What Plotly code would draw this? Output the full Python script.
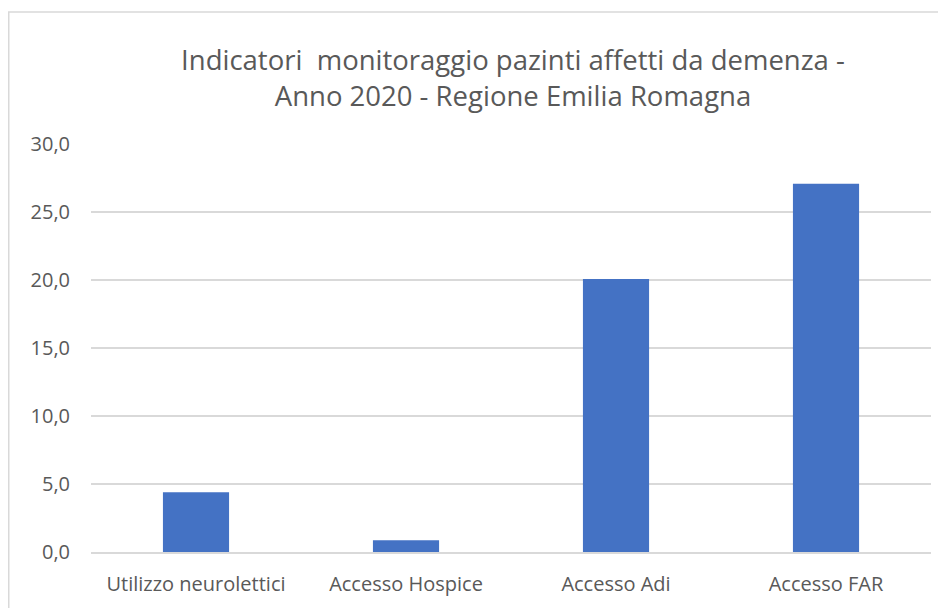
import plotly.graph_objects as go

categories = ["Utilizzo neurolettici", "Accesso Hospice", "Accesso Adi", "Accesso FAR"]
values = [4.4, 0.86, 20.08, 27.08]
y_ticks = [0, 5, 10, 15, 20, 25, 30]
y_tick_labels = ["0,0", "5,0", "10,0", "15,0", "20,0", "25,0", "30,0"]

FONT = "Open Sans"
GRAY = "#595959"

L, T, PW, PH = 83, 136, 840, 408
W, H = 930, 600

fig = go.Figure(go.Bar(x=categories, y=values, marker=dict(color="#4472C4", line=dict(width=0)),
                       width=0.315))

border = dict(color="#d9d9d9", width=1.5)
fig.update_layout(
    width=W, height=H,
    margin=dict(l=L, r=W - L - PW, t=T, b=H - T - PH, autoexpand=False),
    paper_bgcolor="white", plot_bgcolor="white",
    showlegend=False,
    title=dict(text="Indicatori  monitoraggio pazinti affetti da demenza -<br>Anno 2020 - Regione Emilia Romagna",
               x=505 / W, xref="container", xanchor="center", y=1 - 62 / H, yanchor="middle",
               font=dict(family=FONT, size=27.5, color=GRAY)),
    font=dict(family=FONT, color=GRAY),
    shapes=[
        dict(type="line", xref="paper", yref="paper",
             x0=(0.75 - L) / PW, x1=(0.75 - L) / PW,
             y0=-(H - T - PH) / PH, y1=(T + PH - 4) / PH, line=border, layer="below"),
        dict(type="line", xref="paper", yref="paper",
             x0=(0 - L) / PW, x1=(W - L) / PW,
             y0=(T + PH - 4) / PH, y1=(T + PH - 4) / PH, line=border, layer="below"),
    ],
)
fig.update_yaxes(range=[0, 30], tickvals=y_ticks, ticktext=y_tick_labels,
                 showgrid=True, gridcolor="#d9d9d9", gridwidth=1.5,
                 zeroline=False, showline=False, ticks="",
                 ticklabelstandoff=20,
                 tickfont=dict(family=FONT, size=20, color=GRAY))
fig.update_xaxes(showline=True, linecolor="#d9d9d9", linewidth=1.5, ticks="",
                 ticklabelstandoff=13,
                 tickfont=dict(family=FONT, size=20, color=GRAY))

fig.write_html("out.html")
